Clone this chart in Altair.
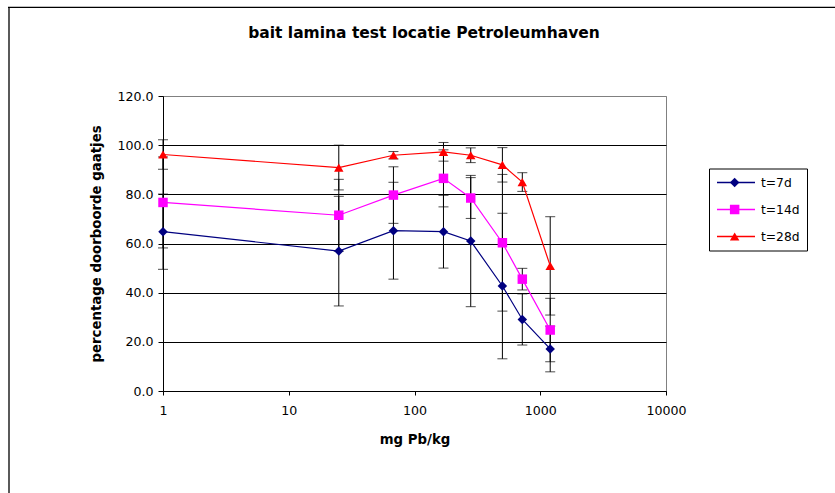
import altair as alt
import pandas as pd

# ---- data ----
conc = [1, 25, 68, 170, 280, 500, 720, 1200]
series_names = ["t=7d", "t=14d", "t=28d"]
t7 = [64.8, 56.9, 65.2, 64.8, 61.0, 42.7, 29.1, 17.1]
t7_err = [15.3, 22.3, 19.7, 14.8, 26.7, 29.6, 10.4, 9.3]
t14 = [76.7, 71.5, 79.7, 86.5, 78.5, 60.3, 45.5, 24.8]
t14_err = [18.5, 14.6, 11.5, 11.6, 8.3, 27.8, 4.4, 12.9]
t28 = [96.2, 90.9, 95.9, 97.3, 95.9, 92.0, 85.0, 50.9]
t28_err = [6.0, 9.1, 1.5, 3.8, 3.0, 7.0, 3.8, 20.0]
colors = ["#000080", "#FF00FF", "#FF0000"]
shapes = ["diamond", "square", "triangle-up"]
y_ticks = [0, 20, 40, 60, 80, 100, 120]
x_ticks = [1, 10, 100, 1000, 10000]
title_text = "bait lamina test locatie Petroleumhaven"
x_title = "mg Pb/kg"
y_title = "percentage doorboorde gaatjes"

rows = []
for sid, (name, vals, errs) in enumerate(zip(series_names, [t7, t14, t28],
                                             [t7_err, t14_err, t28_err])):
    for c, v, e in zip(conc, vals, errs):
        rows.append({"conc": c, "pct": v, "lo": v - e, "hi": v + e,
                     "series": name, "sid": sid})
df = pd.DataFrame(rows)
series_ids = list(range(len(series_names)))

FONT = "DejaVu Sans"

xscale = alt.Scale(type="log", domain=[1, 10000], nice=False)
yscale = alt.Scale(domain=[0, 120], nice=False, zero=True)

xaxis = alt.Axis(title=x_title, values=x_ticks, format="d", grid=False,
                 tickSize=4, tickColor="black", domainColor="black",
                 labelFont=FONT, labelFontSize=12.6, labelColor="black",
                 labelPadding=9, labelFlush=False,
                 titleFont=FONT, titleFontSize=13.3, titleFontWeight="bold",
                 titleColor="black", titlePadding=16)
yaxis = alt.Axis(title=y_title, values=y_ticks, format=".1f", grid=True,
                 gridColor={"condition": {"test": "datum.value === 120", "value": "#808080"},
                            "value": "#000000"},
                 gridWidth=1,
                 tickSize=5, tickColor="black", domainColor="black",
                 labelFont=FONT, labelFontSize=12.6, labelColor="black",
                 labelPadding=5,
                 titleFont=FONT, titleFontSize=13.3, titleFontWeight="bold",
                 titleColor="black", titlePadding=13)

X = alt.X("conc:Q", scale=xscale, axis=xaxis)

base = alt.Chart(df)

err_rule = base.mark_rule(color="black", strokeWidth=1).encode(
    x=X,
    y=alt.Y("lo:Q", scale=yscale, axis=yaxis),
    y2="hi:Q",
)
cap_lo = base.mark_tick(orient="horizontal", size=10, thickness=1, color="black").encode(
    x=X, y=alt.Y("lo:Q", scale=yscale, axis=yaxis))
cap_hi = base.mark_tick(orient="horizontal", size=10, thickness=1, color="black").encode(
    x=X, y=alt.Y("hi:Q", scale=yscale, axis=yaxis))

legend_common = dict(orient="none", title=None, clipHeight=14, rowPadding=13,
                     padding=7, labelFont=FONT, labelFontSize=12.3,
                     labelColor="black", legendY=72.5)

# legend with line symbols + labels + box
lines = base.mark_line(strokeWidth=1.2).encode(
    x=X,
    y=alt.Y("pct:Q", scale=yscale, axis=yaxis),
    stroke=alt.Stroke("series:N",
                      scale=alt.Scale(domain=series_names, range=colors),
                      legend=alt.Legend(symbolType="stroke", symbolSize=1444,
                                        symbolStrokeWidth=1.3, labelOffset=5,
                                        strokeColor="black", legendX=546,
                                        **legend_common)),
)

# marker-only legend laid over the line symbols
pt_legend = alt.Legend(symbolSize=90, symbolStrokeWidth=0, labelOpacity=0,
                       legendX=558.5, **legend_common)
points = base.mark_point(filled=True, opacity=1, strokeWidth=0, size=90).encode(
    x=X,
    y=alt.Y("pct:Q", scale=yscale, axis=yaxis),
    fill=alt.Fill("sid:N", scale=alt.Scale(domain=series_ids, range=colors), legend=pt_legend),
    shape=alt.Shape("sid:N", scale=alt.Scale(domain=series_ids, range=shapes), legend=pt_legend),
)

one = alt.Data(values=[{}])
title = alt.Chart(one).mark_text(
    text=title_text, font=FONT, fontSize=15.5, fontWeight="bold",
    align="center", baseline="alphabetic", color="black",
).encode(x=alt.value(261), y=alt.value(-58.3))

frame_left = alt.Chart(one).mark_rule(color="black", strokeWidth=1.3).encode(
    x=alt.value(-154), y=alt.value(-89), y2=alt.value(410))
frame_top = alt.Chart(one).mark_rule(color="black", strokeWidth=1.3).encode(
    x=alt.value(-155), x2=alt.value(680), y=alt.value(-88.7))

chart = alt.layer(
    frame_left, frame_top, title, err_rule, cap_lo, cap_hi, lines, points
).properties(
    width=503, height=295,
    autosize=alt.AutoSizeParams(type="none"),
    padding={"left": 163, "top": 96, "right": 169, "bottom": 102},
    background="white",
).configure_view(stroke="#808080", strokeWidth=1)

chart.save("out.html", embed_options={"renderer": "svg", "actions": False})
